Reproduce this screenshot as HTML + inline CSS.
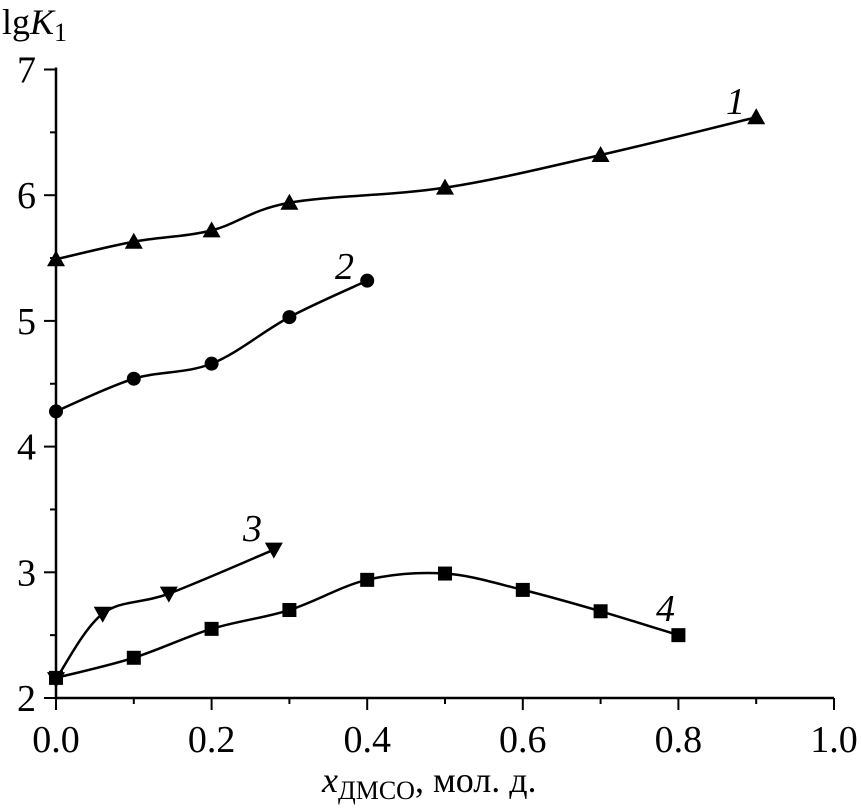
<!DOCTYPE html>
<html><head><meta charset="utf-8"><style>
html,body{margin:0;padding:0;background:#fff;}
svg{display:block;font-family:"Liberation Serif",serif;}
</style></head><body>
<svg id="c" width="861" height="809" viewBox="0 0 861 809"></svg>
<script>
const xTicks=[0,0.2,0.4,0.6,0.8,1.0];
const xTickLabels=["0.0","0.2","0.4","0.6","0.8","1.0"];
const yTicks=[2,3,4,5,6,7];
const yTickLabels=["2","3","4","5","6","7"];
const s1x=[0,0.1,0.2,0.3,0.5,0.7,0.9];
const s1y=[5.49,5.63,5.72,5.94,6.06,6.32,6.62];
const s2x=[0,0.1,0.2,0.3,0.4];
const s2y=[4.28,4.54,4.66,5.03,5.32];
const s3x=[0,0.06,0.145,0.28];
const s3y=[2.15,2.67,2.83,3.18];
const s4x=[0,0.1,0.2,0.3,0.4,0.5,0.6,0.7,0.8];
const s4y=[2.16,2.32,2.55,2.70,2.94,2.99,2.86,2.69,2.50];
const seriesLabels=["1","2","3","4"];

const X=v=>56+v*778, Y=v=>698-(v-2)*125.7;
const svg=document.getElementById('c'), NS='http://www.w3.org/2000/svg';
function mk(t,a,p){const e=document.createElementNS(NS,t);for(const k in a)e.setAttribute(k,a[k]);(p||svg).appendChild(e);return e;}
const ax=mk('path',{d:`M56,${Y(7)-2} V698 H${X(1)}`,stroke:'#000','stroke-width':2.5,fill:'none'});


for(let v=0;v<=10;v++){const x=X(v/10);const t=mk('line',{x1:x,x2:x,y1:698,y2:698+(v%2?6:12),stroke:'#000','stroke-width':2});

}
for(let v=2;v<=7;v+=0.5){const y=Y(v);const t=mk('line',{x1:56,x2:56-(v%1?6:12),y1:y,y2:y,stroke:'#000','stroke-width':2});

}
xTicks.forEach((v,i)=>{const t=mk('text',{x:X(v),y:752,'font-size':38,'text-anchor':'middle'});t.textContent=xTickLabels[i];

});
yTicks.forEach((v,i)=>{const t=mk('text',{x:36,y:Y(v)+13,'font-size':38,'text-anchor':'end'});t.textContent=yTickLabels[i];

});
const yt=mk('text',{x:2,y:34,'font-size':36});yt.innerHTML='lg<tspan font-style="italic">K</tspan><tspan font-size="26" dy="7">1</tspan>';


const xt=mk('text',{x:322,y:792,'font-size':36});xt.innerHTML='<tspan font-style="italic">x</tspan><tspan font-size="26" dy="7">ДМСО</tspan><tspan dy="-7">, мол. д.</tspan>';


function spline(xs,ys){const p=xs.map((x,i)=>[X(x),Y(ys[i])]);let d=`M${p[0][0]},${p[0][1]}`;
for(let i=0;i<p.length-1;i++){const p0=p[i-1]||p[i],p1=p[i],p2=p[i+1],p3=p[i+2]||p2;
d+=` C${p1[0]+(p2[0]-p0[0])/6},${p1[1]+(p2[1]-p0[1])/6} ${p2[0]-(p3[0]-p1[0])/6},${p2[1]-(p3[1]-p1[1])/6} ${p2[0]},${p2[1]}`;}return d;}
function marker(type,x,y){const cx=X(x),cy=Y(y);
if(type==='tri')return mk('path',{d:`M${cx},${cy-9} L${cx+9},${cy+7} L${cx-9},${cy+7}Z`});
if(type==='dtri')return mk('path',{d:`M${cx},${cy+9} L${cx+9},${cy-7} L${cx-9},${cy-7}Z`});
if(type==='circ')return mk('circle',{cx,cy,r:7});
return mk('rect',{x:cx-7,y:cy-7,width:14,height:14});}
const series=[[s1x,s1y,'tri',[726,114]],[s2x,s2y,'circ',[335,279]],[s3x,s3y,'dtri',[243,541]],[s4x,s4y,'sq',[656,621]]];
series.forEach(([xs,ys,m,lp],k)=>{
const l=mk('path',{d:spline(xs,ys),stroke:'#000','stroke-width':2.5,fill:'none'});


xs.forEach((x,i)=>{const e=marker(m,x,ys[i]);

});
const t=mk('text',{x:lp[0],y:lp[1],'font-size':38,'font-style':'italic'});t.textContent=seriesLabels[k];


});
</script>
</body></html>
